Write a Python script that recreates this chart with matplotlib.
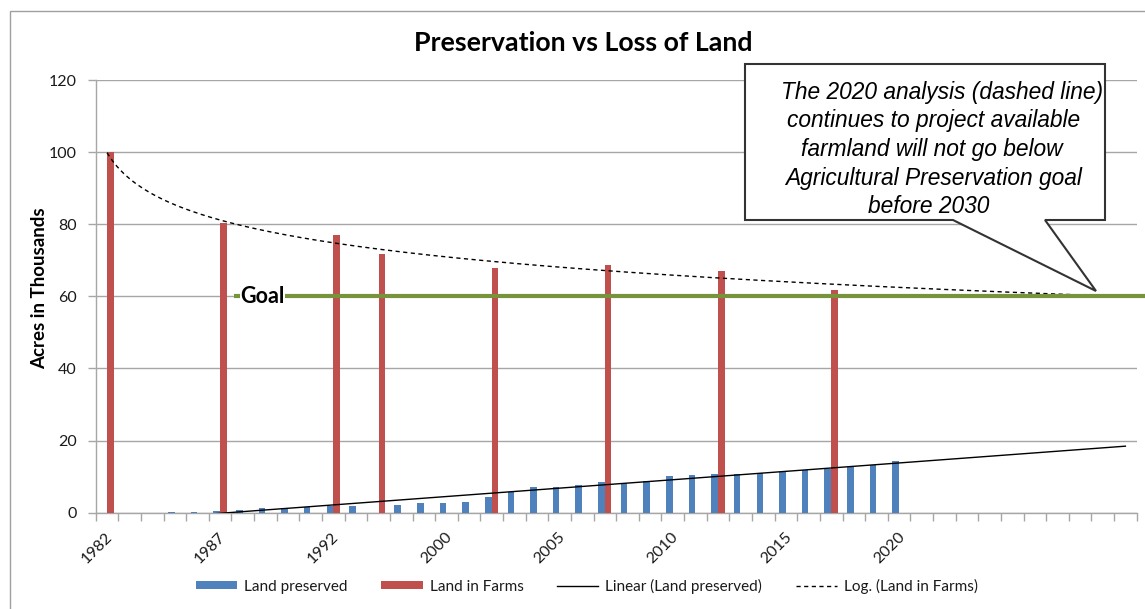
import numpy as np
import matplotlib
matplotlib.use("Agg")
import matplotlib.pyplot as plt
from matplotlib.patches import Polygon, Rectangle
from matplotlib.lines import Line2D
from matplotlib.patches import Patch

# ---------------- data ----------------
categories = (['1982', '1983', '1984', '1985', '1986', '1987', '1988', '1989', '1990', '1991', '1992',
               '1995', '1997', '1998', '1999'] +
              [str(y) for y in range(2000, 2021)] + [''] * 10)
nan = np.nan
land_preserved = [nan, nan, nan, 0.2, 0.2, 0.6, 0.7, 1.2, 1.4, 1.7, 1.9,
                  1.9, nan, 2.2, 2.8,
                  2.8, 3.0, 4.3, 5.8, 7.0, 7.0, 7.8, 8.4, 8.3, 8.7, 10.2, 10.4, 10.7, 10.8, 11.0,
                  11.4, 11.8, 12.0, 12.7, 13.2, 14.3] + [nan] * 10
land_in_farms = [100.0, nan, nan, nan, nan, 80.3, nan, nan, nan, nan, 77.1,
                 nan, 71.7, nan, nan,
                 nan, nan, 67.9, nan, nan, nan, nan, 68.6, nan, nan, nan, nan, 67.0, nan, nan,
                 nan, nan, 61.7, nan, nan, nan] + [nan] * 10
goal = 60
title = "Preservation vs Loss of Land"
ylabel = "Acres in Thousands"
callout_lines = ["The 2020 analysis (dashed line)",
                 "continues to project available",
                 "farmland will not go below",
                 "Agricultural Preservation goal",
                 "before 2030"]

BLUE = '#4F81BD'
RED = '#C0504D'
GREEN = '#77933C'
GRID = '#A6A6A6'
TXT = '#1a1a1a'
FONT = 'Lato'

W, H = 1145, 609
fig = plt.figure(figsize=(W / 100, H / 100), dpi=100)

def fx(px):
    return px / W

def fy(py):
    return 1 - py / H

# axes placement (pixel measurements)
L, R, T, B = 95.7, 1136.7, 80.0, 512.7
ax = fig.add_axes([fx(L), fy(B), fx(R - L), (B - T) / H])

n = len(categories)
x = np.arange(n)
blue = np.array(land_preserved, dtype=float)
red = np.array(land_in_farms, dtype=float)

bw = 0.29
ax.bar(x - 0.155, blue, width=bw, color=BLUE, zorder=3)
ax.bar(x + 0.145, red, width=bw, color=RED, zorder=3)

# Linear trendline of land preserved (forecast to the last category)
mb = ~np.isnan(blue)
lin = np.polyfit(x[mb] + 1, blue[mb], 1)
xl = np.linspace(x[mb][0], n - 1, 200)
ax.plot(xl, np.polyval(lin, xl + 1), color='black', lw=1.0, zorder=4)

# Log trendline of land in farms
mr = ~np.isnan(red)
lg = np.polyfit(np.log(x[mr] + 1), red[mr], 1)
xg = np.linspace(0, n - 3, 300)
ax.plot(xg, lg[0] * np.log(xg + 1) + lg[1], color='black', lw=1.0,
        linestyle=(0, (3, 2.5)), zorder=4)

# goal line
ax.plot([5.62, 45.9], [goal, goal], color=GREEN, lw=3, zorder=5, clip_on=False,
        solid_capstyle='butt')
ax.text(5.9, goal, "Goal", fontsize=15.5, fontweight='bold', family=FONT, color='black',
        va='center', ha='left', zorder=6,
        bbox=dict(facecolor='white', edgecolor='none', pad=0.3))

ax.set_xlim(-0.5, n - 0.5)
ax.set_ylim(0, 120)
ax.set_yticks(np.arange(0, 121, 20))
ax.yaxis.grid(True, color=GRID, lw=1)
ax.set_axisbelow(True)
for s in ['top', 'right']:
    ax.spines[s].set_visible(False)
for s in ['left', 'bottom']:
    ax.spines[s].set_color(GRID)
    ax.spines[s].set_linewidth(1)

# x ticks at category boundaries, labels every 5 categories at centers
ax.set_xticks(np.arange(-0.5, n, 1.0))
ax.set_xticklabels([])
lab_pos = np.arange(0, n, 5)
ax.set_xticks(lab_pos + 0.15, minor=True)
ax.set_xticklabels([categories[i] for i in lab_pos], minor=True, rotation=45,
                   ha='right', va='center', rotation_mode='anchor',
                   fontsize=11.5, family=FONT, color=TXT)
ax.tick_params(axis='x', which='major', length=5.5, color=GRID, width=1, direction='out')
ax.tick_params(axis='x', which='minor', length=0, pad=16)
ax.tick_params(axis='y', length=5.5, color=GRID, width=1, pad=8, labelsize=11.5,
               labelcolor=TXT)
for t in ax.get_yticklabels():
    t.set_family(FONT)

# titles
fig.text(fx(583), fy(43), title, fontsize=19.3, fontweight='bold', family=FONT,
         ha='center', va='center', color='black')
fig.text(fx(40), fy(288), ylabel, fontsize=13.5, fontweight='bold', family=FONT,
         rotation=90, ha='center', va='center', color='black')

# outer chart border (cropped on right / bottom)
fig.add_artist(Rectangle((fx(10), -0.1), 1.2, fy(11) + 0.1, transform=fig.transFigure,
                         fill=False, edgecolor='#A0A0A0', lw=1, zorder=0))

# legend
handles = [Patch(facecolor=BLUE, edgecolor='none'),
           Patch(facecolor=RED, edgecolor='none'),
           Line2D([], [], color='black', lw=1),
           Line2D([], [], color='black', lw=1, linestyle=(0, (3, 2.5)))]
labels = ["Land preserved", "Land in Farms", "Linear (Land preserved)", "Log. (Land in Farms)"]
fig.legend(handles, labels, loc='center', bbox_to_anchor=(fx(587), fy(586)), ncol=4,
           frameon=False, prop={'family': FONT, 'size': 11}, handlelength=2.7,
           handleheight=0.5, handletextpad=0.45, columnspacing=2.2, labelcolor=TXT)

# callout with pointer
pts = [(745, 64), (1105, 64), (1105, 220), (1045, 220), (1096, 291), (953, 220), (745, 220)]
fig.add_artist(Polygon([(fx(a), fy(b)) for a, b in pts], closed=True, transform=fig.transFigure,
                       facecolor='white', edgecolor='#333333', lw=1.5, zorder=5))
base_y = [99, 127.5, 156, 184.5, 213]
cx = [942, 934, 932, 934, 929]
for line, by, c in zip(callout_lines, base_y, cx):
    fig.text(fx(c), fy(by), line, fontsize=16.4, style='italic', family='Liberation Sans',
             ha='center', va='baseline', color='black', zorder=6)

fig.savefig('out.png', dpi=100)
